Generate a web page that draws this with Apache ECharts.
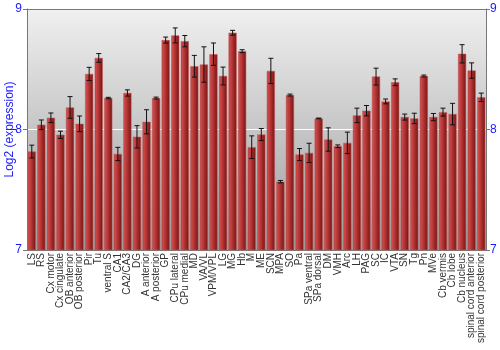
<!DOCTYPE html>
<html><head><meta charset="utf-8">
<script src="https://cdn.jsdelivr.net/npm/echarts@6/dist/echarts.min.js"></script>
<style>html,body{margin:0;padding:0;background:#fff}#c{width:500px;height:350px}</style>
</head><body><div id="c"></div>
<script>
var categories = ["LS","RS","Cx motor","Cx cingulate","OB anterior","OB posterior","Pir","Tu","ventral S","CA1","CA2/CA3","DG","A anterior","A posterior","GP","CPu lateral","CPu medial","MD","VA/VL","VPM/VPL","LG","MG","Hb","M","ME","SCN","MPA","SO","Pa","SPa ventral","SPa dorsal","DM","VMH","Arc","LH","PAG","SC","IC","VTA","SN","Tg","Pn","MVe","Cb vermis","Cb lobe","Cb nucleus","spinal cord anterior","spinal cord posterior"];
var values = [7.817,8.039,8.097,7.956,8.183,8.047,8.461,8.594,8.261,7.797,8.303,7.939,8.064,8.261,8.742,8.781,8.733,8.525,8.539,8.625,8.444,8.803,8.650,7.853,7.958,8.486,7.567,8.286,7.792,7.806,8.092,7.917,7.861,7.889,8.117,8.156,8.439,8.233,8.392,8.103,8.092,8.444,8.103,8.144,8.128,8.628,8.489,8.267];
var errors = [0.053,0.040,0.040,0.030,0.090,0.065,0.055,0.036,0.006,0.055,0.026,0.093,0.100,0.008,0.025,0.062,0.047,0.090,0.147,0.093,0.074,0.020,0.012,0.094,0.050,0.105,0.010,0.008,0.050,0.080,0.003,0.097,0.011,0.089,0.060,0.043,0.070,0.020,0.028,0.025,0.043,0.008,0.030,0.033,0.089,0.076,0.064,0.035];
var yTicks = [7, 8, 9];

var chart = echarts.init(document.getElementById('c'), null, {renderer:'canvas'});
var errData = values.map(function(v,i){return [i, v - errors[i], v + errors[i]];});
var blue = '#1a1aff';
var ff = 'Liberation Sans, Arial, sans-serif';
chart.setOption({
  animation:false,
  grid:{left:27, right:14, top:9, bottom:100, show:true, borderWidth:0, containLabel:false, outerBoundsMode:'none',
    backgroundColor:{type:'linear',x:0,y:0,x2:0,y2:1,colorStops:[{offset:0,color:'#f0f0f0'},{offset:1,color:'#9c9c9c'}]}},
  xAxis:{type:'category', data:categories,
    axisLine:{show:true, lineStyle:{color:'#777', width:1}},
    axisTick:{show:false},
    axisLabel:{rotate:90, interval:0, fontSize:10, color:'#333', fontFamily:ff, margin:3}},
  yAxis:[{type:'value', min:7, max:9, interval:1, position:'left',
    name:'Log2 (expression)', nameLocation:'middle', nameGap:11, nameRotate:90, nameMoveOverlap:false,
    nameTextStyle:{color:blue, fontSize:12, fontFamily:ff},
    axisLine:{show:true, lineStyle:{color:'#777'}},
    axisTick:{show:true, length:4, lineStyle:{color:'#777'}},
    axisLabel:{color:blue, fontSize:12, margin:5, fontFamily:ff,
      formatter:function(v){return yTicks.indexOf(v)>=0? String(v):'';}},
    splitLine:{show:true, lineStyle:{color:'#ffffff', width:1}}},
   {type:'value', min:7, max:9, interval:1, position:'right',
    axisLine:{show:true, lineStyle:{color:'#777'}},
    axisTick:{show:true, length:4, lineStyle:{color:'#777'}},
    axisLabel:{color:blue, fontSize:12, margin:4, fontFamily:ff},
    splitLine:{show:false}}],
  series:[{type:'bar', data:values, barCategoryGap:'16%',
    itemStyle:{color:{type:'linear',x:0,y:0,x2:1,y2:0,colorStops:[
      {offset:0,color:'#a83030'},{offset:0.15,color:'#cc4a4a'},{offset:0.45,color:'#b53434'},{offset:1,color:'#741414'}]},
      borderColor:'rgba(200,90,90,0.6)', borderWidth:0.5}},
   {type:'custom', data:errData, z:5,
    renderItem:function(params, api){
      var lo = api.coord([api.value(0), api.value(1)]);
      var hi = api.coord([api.value(0), api.value(2)]);
      var hw = 2.5;
      var st = {stroke:'#111', lineWidth:1};
      return {type:'group', children:[
        {type:'line', shape:{x1:lo[0],y1:lo[1],x2:hi[0],y2:hi[1]}, style:st},
        {type:'line', shape:{x1:lo[0]-hw,y1:lo[1],x2:lo[0]+hw,y2:lo[1]}, style:st},
        {type:'line', shape:{x1:hi[0]-hw,y1:hi[1],x2:hi[0]+hw,y2:hi[1]}, style:st}
      ]};
    }}
  ]
});
chart.setOption({graphic:[{type:'line', shape:{x1:27,y1:9.5,x2:486,y2:9.5}, style:{stroke:'#777', lineWidth:1}}]});
</script></body></html>
